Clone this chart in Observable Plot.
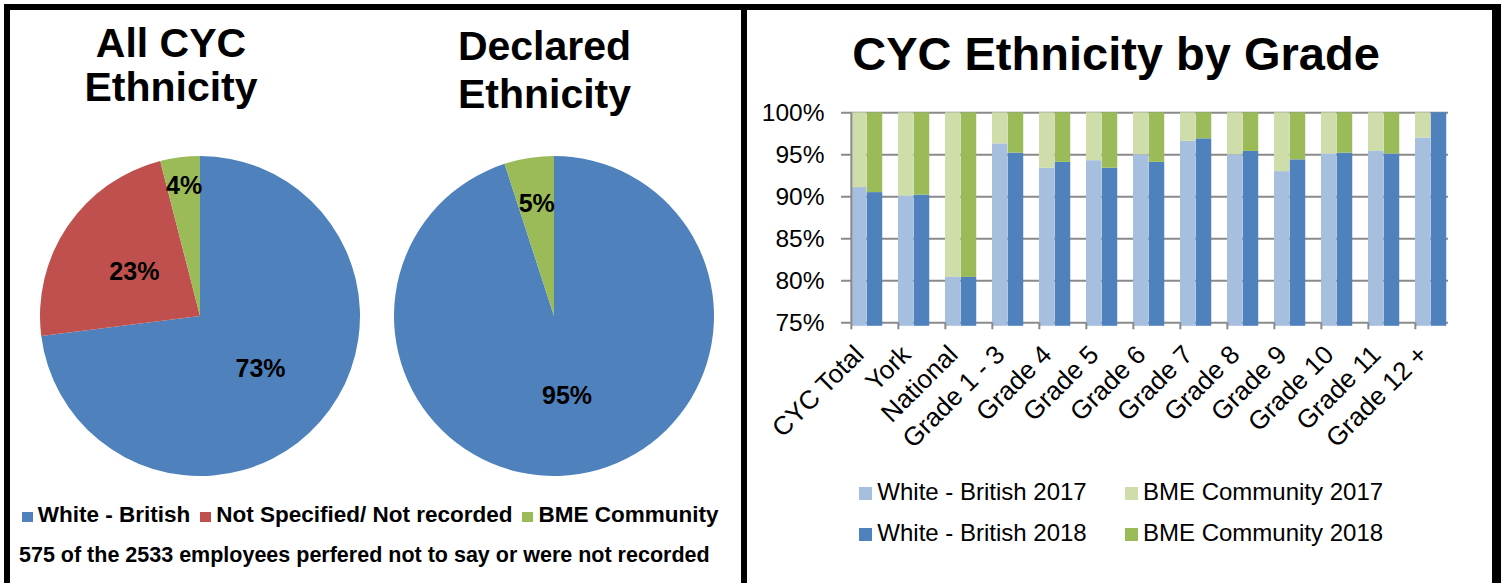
<!DOCTYPE html>
<html><head><meta charset="utf-8">
<script src="https://cdn.jsdelivr.net/npm/d3@7"></script>
<script src="https://cdn.jsdelivr.net/npm/@observablehq/plot@0.6"></script>
<style>
html,body{margin:0;padding:0;background:#fff;}
#root{position:relative;width:1501px;height:583px;overflow:hidden;background:#fff;font-family:"Liberation Sans",Arial,sans-serif;color:#000;}
.abs{position:absolute;white-space:nowrap;line-height:1;}
.blk{position:absolute;background:#000;}
.sw{display:inline-block;vertical-align:baseline;}
.plot{position:absolute;}
</style></head><body><div id="root"></div>
<script>
// ---------- data ----------
const allCycCategories = ["White - British", "Not Specified/ Not recorded", "BME Community"];
const allCycValues = [73, 23, 4];
const declaredCategories = ["White - British", "BME Community"];
const declaredValues = [95, 5];
const pieCaption = "575 of the 2533 employees perfered not to say or were not recorded";

const gradeCategories = ["CYC Total","York","National","Grade 1 - 3","Grade 4","Grade 5","Grade 6","Grade 7","Grade 8","Grade 9","Grade 10","Grade 11","Grade 12 +"];
const whiteBritish2017 = [91.1, 90.1, 80.4, 96.3, 93.4, 94.3, 95.0, 96.6, 95.0, 93.0, 95.1, 95.4, 97.0];
const bme2017          = [ 8.9,  9.9, 19.6,  3.7,  6.6,  5.7,  5.0,  3.4,  5.0,  7.0,  4.9,  4.6,  3.0];
const whiteBritish2018 = [90.5, 90.2, 80.4, 95.2, 94.1, 93.4, 94.1, 96.9, 95.4, 94.4, 95.2, 95.1, 100.0];
const bme2018          = [ 9.5,  9.8, 19.6,  4.8,  5.9,  6.6,  5.9,  3.1,  4.6,  5.6,  4.8,  4.9,  0.0];
const yTicks = [75, 80, 85, 90, 95, 100];
const barSeries = ["White - British 2017", "BME Community 2017", "White - British 2018", "BME Community 2018"];

// ---------- styles ----------
const C = {
  white: "#4F81BD", red: "#C0504D", green: "#9BBB59",
  white17: "#A7BFDE", bme17: "#CFDDAB", white18: "#4F81BD", bme18: "#9BBB59",
  grid: "#8A8A8A"
};
const root = document.getElementById("root");
const FONT = '"Liberation Sans", Arial, sans-serif';

function blk(l, t, w, h){ const d=document.createElement("div"); d.className="blk"; Object.assign(d.style,{left:l+"px",top:t+"px",width:w+"px",height:h+"px"}); root.appendChild(d); }
function text(txt, x, baseline, size, weight, anchor){
  const d=document.createElement("div"); d.className="abs"; d.textContent=txt;
  d.style.fontSize=size+"px"; d.style.fontWeight=weight;
  d.style.top=(baseline-0.8465*size)+"px"; d.style.left=x+"px";
  if(anchor==="middle") d.style.transform="translateX(-50%)";
  root.appendChild(d); return d;
}
function legendRow(items, x, baseline, size, weight, sw, gap, itemGap){
  const d=document.createElement("div"); d.className="abs";
  d.style.fontSize=size+"px"; d.style.fontWeight=weight;
  d.style.top=(baseline-0.8465*size)+"px"; d.style.left=x+"px";
  items.forEach(([label,color],i)=>{
    const s=document.createElement("span"); s.className="sw";
    Object.assign(s.style,{width:sw[0]+"px",height:sw[1]+"px",background:color,marginRight:gap+"px"});
    d.appendChild(s);
    const t=document.createElement("span"); t.textContent=label;
    if(i<items.length-1) t.style.marginRight=itemGap+"px";
    d.appendChild(t);
  });
  root.appendChild(d);
}

// ---------- pies ----------
function pie(values, colors, labelRadii, left, top){
  const arcs = d3.pie().sort(null).value(d=>d)(values);
  const labels = arcs.map((a,i)=>({t: values[i]+"%", mid:(a.startAngle+a.endAngle)/2, lr: labelRadii[i]}));
  const chart = Plot.plot({
    width: 340, height: 340, margin: 10,
    x: {domain: [-1,1], axis: null}, y: {domain: [-1,1], axis: null},
    style: {fontFamily: FONT, background: "transparent", overflow: "visible"},
    marks: [
      (index, scales) => {
        const X = scales.x, Y = scales.y;
        const R = X(1) - X(0);
        const g = d3.create("svg:g").attr("transform", `translate(${X(0)},${Y(0)})`);
        const arc = d3.arc().innerRadius(0).outerRadius(R);
        g.selectAll("path").data(arcs).join("path").attr("d", arc).attr("fill", (d,i)=>colors[i]);
        return g.node();
      },
      Plot.text(labels, {x: d => d.lr*Math.sin(d.mid), y: d => d.lr*Math.cos(d.mid), text: "t", fontSize: 25, fontWeight: "bold", fill: "#000"})
    ]
  });
  chart.classList.add("plot"); chart.style.left=left+"px"; chart.style.top=top+"px";
  root.appendChild(chart);
}
pie(allCycValues, [C.white, C.red, C.green], [0.5, 0.5, 0.82], 30.2, 146);
pie(declaredValues, [C.white, C.green], [0.5, 0.71], 383.7, 146);

// ---------- bar chart ----------
const rows = gradeCategories.map((c,i)=>({cat:c, w17:whiteBritish2017[i], b17:bme2017[i], w18:whiteBritish2018[i], b18:bme2018[i]}));
const bw = 47.3;
const y0 = yTicks[0];
const bar = Plot.plot({
  width: 745, height: 400, marginLeft: 102, marginRight: 44, marginTop: 22.3, marginBottom: 167.7,
  x: {type: "band", domain: gradeCategories, range: [102, 102 + gradeCategories.length*bw], padding: 0, label: null},
  y: {domain: [y0, 100], label: null},
  style: {fontFamily: FONT, background: "transparent", overflow: "visible", color: "#000"},
  marks: [
    Plot.ruleY(yTicks, {stroke: C.grid, strokeWidth: 2, insetLeft: -8}),
    Plot.barY(rows, {x: "cat", y1: () => y0, y2: "w17", fill: C.white17, insetLeft: 0, insetRight: 2*bw/3, insetBottom: -3.5}),
    Plot.barY(rows, {x: "cat", y1: "w17", y2: d => d.w17 + d.b17, fill: C.bme17, insetLeft: 0, insetRight: 2*bw/3}),
    Plot.barY(rows, {x: "cat", y1: () => y0, y2: "w18", fill: C.white18, insetLeft: bw/3, insetRight: bw/3, insetBottom: -3.5}),
    Plot.barY(rows, {x: "cat", y1: "w18", y2: d => d.w18 + d.b18, fill: C.bme18, insetLeft: bw/3, insetRight: bw/3}),
    Plot.ruleX([gradeCategories[0]], {x: d => d, dx: -bw/2, stroke: C.grid, strokeWidth: 2}),
    Plot.axisX({tickSize: 7, tickFormat: () => "", dx: -bw/2, stroke: C.grid, strokeWidth: 2, label: null}),
    Plot.axisX({tickSize: 0, tickRotate: -45, tickPadding: 27.5, fontSize: 26, dx: -15.6, fill: "#000", label: null}),
    Plot.axisY({ticks: yTicks, tickFormat: d => d + "%", tickSize: 0, tickPadding: 25, fontSize: 24.5, fill: "#000", label: null})
  ]
});
bar.classList.add("plot"); bar.style.left="747px"; bar.style.top="90px";
root.appendChild(bar);

// ---------- texts ----------
text("All CYC", 171, 57.4, 41, "bold", "middle");
text("Ethnicity", 171, 102, 41, "bold", "middle");
text("Declared", 544.5, 61, 41, "bold", "middle");
text("Ethnicity", 544.5, 108.5, 41, "bold", "middle");
text("CYC Ethnicity by Grade", 1116, 70, 47, "bold", "middle");

legendRow(allCycCategories.map((c,i)=>[c,[C.white,C.red,C.green][i]]), 21.7, 523.3, 22.5, "bold", [11,10], 5, 10);
text(pieCaption, 19, 563.3, 21.5, "bold");

const barColors = [C.white17, C.bme17, C.white18, C.bme18];
legendRow([[barSeries[0], barColors[0]]], 859.3, 500, 24, "normal", [13,13], 5, 0);
legendRow([[barSeries[1], barColors[1]]], 1125, 500, 24, "normal", [13,13], 5, 0);
legendRow([[barSeries[2], barColors[2]]], 859.3, 541.7, 24, "normal", [13,13], 5, 0);
legendRow([[barSeries[3], barColors[3]]], 1125, 541.7, 24, "normal", [13,13], 5, 0);

// ---------- frame ----------
blk(4, 4, 1497, 6);
blk(4, 4, 6, 579);
blk(741, 4, 6, 579);
blk(1492, 4, 9, 579);
</script></body></html>
